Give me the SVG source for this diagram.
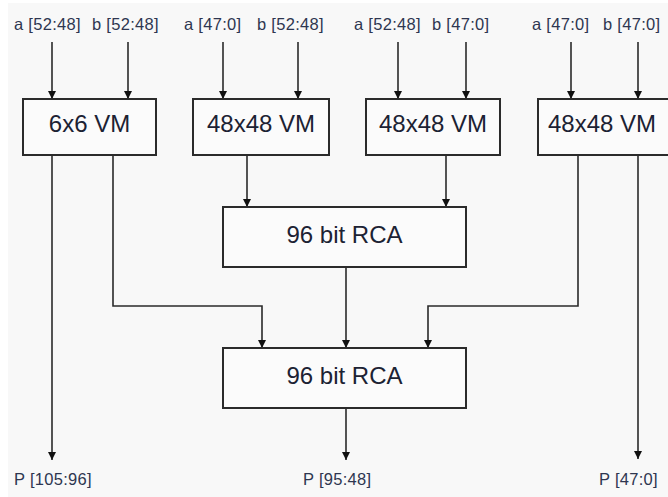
<svg xmlns="http://www.w3.org/2000/svg" width="668" height="497" viewBox="0 0 668 497">
<defs>
<style>
.box{fill:#fbfbfb;stroke:#2b2b2b;stroke-width:2}
.big{font-family:"Liberation Sans",Arial,sans-serif;font-size:24px;fill:#1c2233;text-anchor:middle}
.sm{font-family:"Liberation Sans",Arial,sans-serif;font-size:16.5px;fill:#2e3650;letter-spacing:0.3px}
.ln{fill:none;stroke:#2a2a2a;stroke-width:1.6;marker-end:url(#ah)}
</style>
<marker id="ah" viewBox="0 0 10 10" refX="10" refY="5" markerWidth="8" markerHeight="8" markerUnits="userSpaceOnUse" orient="auto">
<path d="M0,0 L10,5 L0,10 z" fill="#111"/>
</marker>
</defs>
<rect x="0" y="0" width="668" height="497" fill="#ffffff"/>
<rect x="8" y="3" width="660" height="494" fill="#f8f8f8"/>

<g id="labels-in">
<text class="sm" x="14" y="30">a [52:48]</text>
<text class="sm" x="92" y="30">b [52:48]</text>
<text class="sm" x="184" y="30">a [47:0]</text>
<text class="sm" x="257" y="30">b [52:48]</text>
<text class="sm" x="354" y="30">a [52:48]</text>
<text class="sm" x="432" y="30">b [47:0]</text>
<text class="sm" x="532" y="30">a [47:0]</text>
<text class="sm" x="603" y="30">b [47:0]</text>
</g>

<g id="connectors">
<path class="ln" d="M52,42 V99"/>
<path class="ln" d="M128,42 V99"/>
<path class="ln" d="M223,42 V99"/>
<path class="ln" d="M298,42 V99"/>
<path class="ln" d="M398,42 V99"/>
<path class="ln" d="M466,42 V99"/>
<path class="ln" d="M571,42 V99"/>
<path class="ln" d="M638,42 V99"/>
<path class="ln" d="M52,155 V460"/>
<path class="ln" d="M113,155 V306 H262 V348"/>
<path class="ln" d="M247,155 V207"/>
<path class="ln" d="M446,155 V207"/>
<path class="ln" d="M346,267 V348"/>
<path class="ln" d="M578,155 V306 H428 V348"/>
<path class="ln" d="M638,155 V459"/>
<path class="ln" d="M346,408 V460"/>
</g>

<g id="vm1"><rect class="box" x="23" y="99" width="133" height="56"/><text class="big" x="89.5" y="132">6x6 VM</text></g>
<g id="vm2"><rect class="box" x="193" y="99" width="136" height="56"/><text class="big" x="261" y="132">48x48 VM</text></g>
<g id="vm3"><rect class="box" x="366" y="99" width="134" height="56"/><text class="big" x="433" y="132">48x48 VM</text></g>
<g id="vm4"><rect class="box" x="538" y="99" width="140" height="56"/><text class="big" x="602" y="132">48x48 VM</text></g>
<g id="rca1"><rect class="box" x="223" y="207" width="243" height="60"/><text class="big" x="344.5" y="243">96 bit RCA</text></g>
<g id="rca2"><rect class="box" x="223" y="348" width="243" height="60"/><text class="big" x="344.5" y="384">96 bit RCA</text></g>

<g id="labels-out">
<text class="sm" x="14" y="485">P [105:96]</text>
<text class="sm" x="303" y="485">P [95:48]</text>
<text class="sm" x="599" y="485">P [47:0]</text>
</g>
</svg>
